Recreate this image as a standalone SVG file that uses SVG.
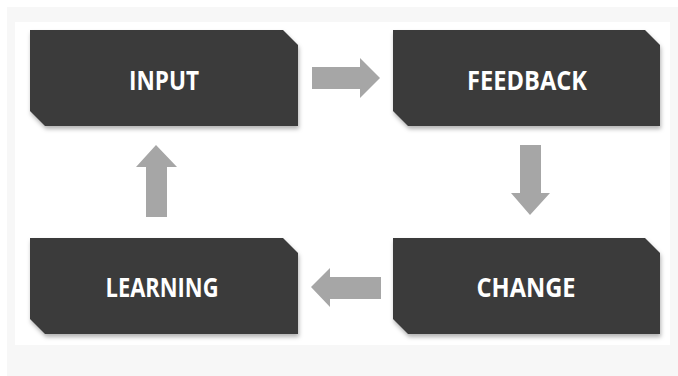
<svg xmlns="http://www.w3.org/2000/svg" width="678" height="376" viewBox="0 0 678 376">
  <defs>
    <style>
      .box { fill: #3a3a3a; filter: url(#shadow); }
      .label { fill: #ffffff; font-family: "Open Sans", "Liberation Sans", sans-serif; font-weight: bold; font-size: 26px; text-anchor: middle; }
      .arrow { fill: #a6a6a6; }
    </style>
    <filter id="shadow" x="-10%" y="-10%" width="120%" height="130%">
      <feDropShadow dx="1" dy="3" stdDeviation="2" flood-color="#000000" flood-opacity="0.3"/>
    </filter>
  </defs>
  <rect x="0" y="0" width="678" height="376" fill="#ffffff"/>
  <rect x="7" y="7" width="671" height="369" fill="#f7f7f7"/>
  <rect x="15" y="22" width="655" height="323" fill="#ffffff"/>

  <g id="input">
    <polygon class="box" points="30,30 283,30 298,45 298,126 45,126 30,111"/>
    <text class="label" x="164" y="90" textLength="70" lengthAdjust="spacingAndGlyphs">INPUT</text>
  </g>
  <g id="feedback">
    <polygon class="box" points="393,30 645,30 660,45 660,126 408,126 393,111"/>
    <text class="label" x="527" y="90" textLength="120" lengthAdjust="spacingAndGlyphs">FEEDBACK</text>
  </g>
  <g id="change">
    <polygon class="box" points="393,238 645,238 660,253 660,334 408,334 393,319"/>
    <text class="label" x="526" y="297" textLength="99" lengthAdjust="spacingAndGlyphs">CHANGE</text>
  </g>
  <g id="learning">
    <polygon class="box" points="30,238 283,238 298,253 298,334 45,334 30,319"/>
    <text class="label" x="162" y="297" textLength="113" lengthAdjust="spacingAndGlyphs">LEARNING</text>
  </g>

  <g id="connectors">
    <polygon class="arrow" points="312,67 360,67 360,58 380,78 360,98 360,89 312,89"/>
    <polygon class="arrow" points="520,145 541,145 541,193 550,193 530,215 511,193 520,193"/>
    <polygon class="arrow" points="381,277 330,277 330,268 311,287 330,307 330,299 381,299"/>
    <polygon class="arrow" points="146,217 167,217 167,167 177,167 156,145 136,167 146,167"/>
  </g>
</svg>
